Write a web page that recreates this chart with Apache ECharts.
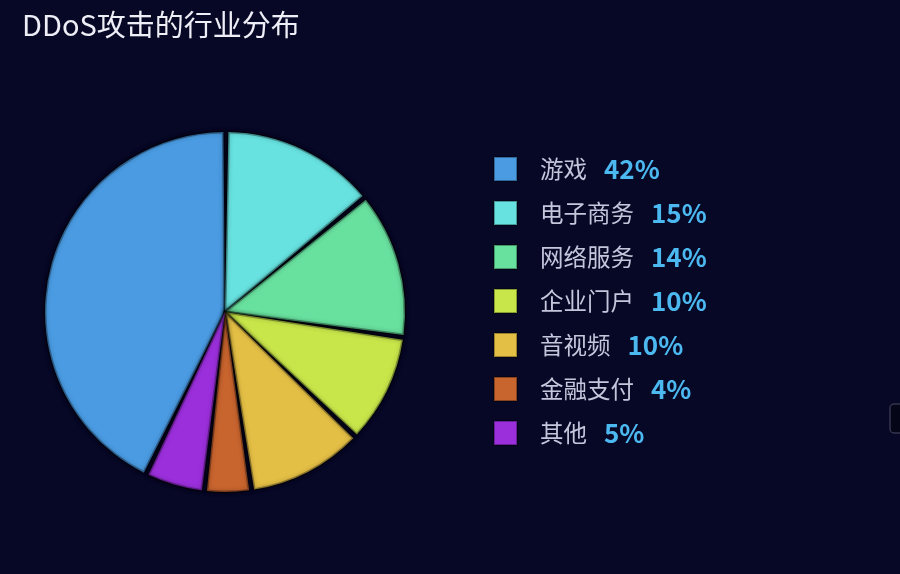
<!DOCTYPE html>
<html>
<head>
<meta charset="utf-8">
<style>
  html, body { margin: 0; padding: 0; background: #070726; }
  #main { width: 900px; height: 574px; }
</style>
<script src="https://cdn.jsdelivr.net/npm/echarts@6/dist/echarts.min.js"></script>
</head>
<body>
<div id="main"></div>
<script>
// 行业分布数据 (扇区大小按图片读取, 图例文字按图例读取)
const categories = ['游戏', '电子商务', '网络服务', '企业门户', '音视频', '金融支付', '其他'];
const values = [42.9, 14.0, 13.2, 9.9, 10.5, 4.2, 5.4];
const percentLabels = ['42%', '15%', '14%', '10%', '10%', '4%', '5%'];
const colors = ['#4a9be2', '#67e2e0', '#68e09e', '#c8e64a', '#e4bf45', '#c8642e', '#9b2fdc'];

var chartDom = document.getElementById('main');
var myChart = echarts.init(chartDom);
var option;

const pieData = categories.map(function (name, i) {
  return { name: name, value: values[i], itemStyle: { color: colors[i] } };
});

option = {
  backgroundColor: '#070726',
  textStyle: { fontFamily: 'Noto Sans CJK SC' },
  title: {
    text: 'DDoS攻击的行业分布',
    left: 17,
    top: 5,
    textStyle: {
      color: '#eeeef6',
      fontSize: 29,
      fontWeight: 'normal',
      fontFamily: 'Noto Sans CJK SC'
    }
  },
  legend: {
    orient: 'vertical',
    left: 488,
    top: 151,
    itemWidth: 23,
    itemHeight: 24,
    itemGap: 18,
    icon: 'rect',
    data: categories,
    formatter: function (name) {
      const i = categories.indexOf(name);
      return '{a|' + name + '}{b|' + percentLabels[i] + '}';
    },
    textStyle: {
      lineHeight: 24,
      rich: {
        a: {
          color: '#c4c6dc',
          fontSize: 23.5,
          lineHeight: 24,
          padding: [0, 0, 0, 18],
          fontFamily: 'Noto Sans CJK SC'
        },
        b: {
          color: '#4cb8f0',
          fontSize: 26,
          lineHeight: 24,
          fontWeight: 'bold',
          padding: [0, 0, 0, 17],
          fontFamily: 'Noto Sans CJK SC'
        }
      }
    }
  },
  series: [
    {
      name: '行业分布',
      type: 'pie',
      center: [225, 312],
      radius: 180,
      startAngle: 244,
      padAngle: 1.6,
      label: { show: false },
      labelLine: { show: false },
      itemStyle: {
        borderColor: 'rgba(0,0,0,0.32)',
        borderWidth: 3,
        shadowColor: 'rgba(0,0,0,0.6)',
        shadowBlur: 4
      },
      data: pieData
    }
  ],
  graphic: [
    {
      type: 'rect',
      shape: { x: 890, y: 404, width: 20, height: 29, r: 4 },
      style: { fill: '#050518', stroke: '#34344e', lineWidth: 1.5 }
    }
  ]
};

option && myChart.setOption(option);
</script>
</body>
</html>
